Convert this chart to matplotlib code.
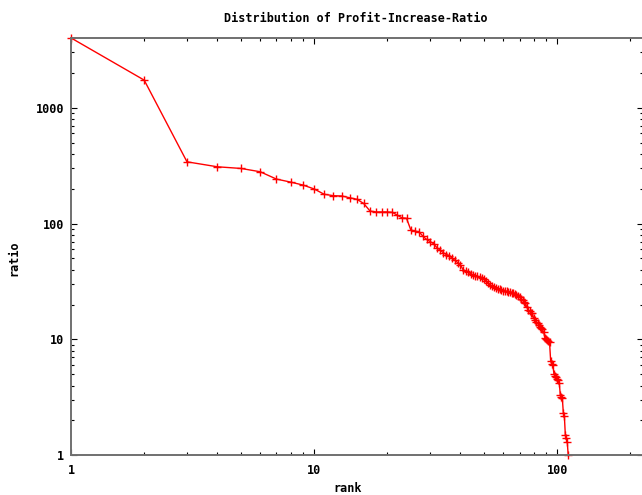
import matplotlib
matplotlib.use("Agg")
import matplotlib.pyplot as plt
from matplotlib.ticker import LogLocator, FuncFormatter, NullFormatter

title = "Distribution of Profit-Increase-Ratio"
xlabel = "rank"
ylabel = "ratio"

ratio = [
    4000, 1730, 341, 309, 299, 280, 242, 228, 215, 199,
    179, 174, 173, 167, 162, 149, 128, 126, 126, 126,
    125, 118, 112, 111, 88, 86, 85, 78, 73, 70,
    67, 62, 59, 56, 54, 53, 50, 48, 46, 44,
    40, 39, 38, 37, 36, 35.5, 35, 34.5, 34, 33.5,
    32, 30.5, 29.5, 29, 28.2, 27.7, 27.2, 27, 26.7, 26.4,
    26.2, 26, 25.8, 25.6, 25.4, 25.3, 24.8, 24.3, 23.7, 23.2,
    22.4, 21.8, 21.1, 20.5, 19, 17.9, 17.5, 17, 16.8, 15.2,
    14.7, 14.2, 13.8, 13.3, 12.9, 12.6, 12.2, 11.5, 10.3, 10.1,
    9.9, 9.6, 9.5, 6.5, 6.1, 6.0, 5.0, 4.8, 4.7, 4.6,
    4.5, 4.2, 3.3, 3.2, 3.1, 2.3, 2.2, 1.5, 1.4, 1.3,
    1.0,
]
rank = list(range(1, len(ratio) + 1))

xticks = [1, 10, 100]
yticks = [1, 10, 100, 1000]

font = dict(family="DejaVu Sans Mono", weight="bold", size=8.5)

fig = plt.figure(figsize=(6.42, 4.95), dpi=100)
ax = fig.add_axes([71 / 642, 1 - 455.3 / 495, 1.0 - 71 / 642 + 0.002, (455.3 - 38.3) / 495])

ax.plot(rank, ratio, color="red", lw=1.0, marker="+", markersize=6,
        markeredgewidth=1.0, clip_on=False)

ax.set_xscale("log")
ax.set_yscale("log")
ax.set_xlim(1, 226)
ax.set_ylim(1, 3970)

ax.xaxis.set_major_locator(LogLocator(base=10, subs=(1.0,)))
ax.yaxis.set_major_locator(LogLocator(base=10, subs=(1.0,)))
ax.xaxis.set_minor_locator(LogLocator(base=10, subs=range(2, 10)))
ax.yaxis.set_minor_locator(LogLocator(base=10, subs=range(2, 10)))
fmt = FuncFormatter(lambda v, p: "%d" % round(v))
ax.xaxis.set_major_formatter(fmt)
ax.yaxis.set_major_formatter(fmt)
ax.xaxis.set_minor_formatter(NullFormatter())
ax.yaxis.set_minor_formatter(NullFormatter())
ax.set_xticks(xticks)
ax.set_yticks(yticks)

ax.tick_params(which="both", direction="in", top=True, right=True, color="black", width=0.8)
ax.tick_params(which="major", length=4)
ax.tick_params(which="minor", length=2.2)
ax.tick_params(axis="x", which="major", pad=6)
ax.tick_params(axis="y", which="major", pad=5)
for lab in ax.get_xticklabels() + ax.get_yticklabels():
    lab.set_fontfamily(font["family"])
    lab.set_fontweight("bold")
    lab.set_fontsize(font["size"])

for s in ax.spines.values():
    s.set_color("#707070")
    s.set_linewidth(1.4)

fig.text(356 / 642, 1 - 18 / 495, title, ha="center", va="center", **font)
fig.text(348 / 642, 1 - 488 / 495, xlabel, ha="center", va="center", **font)
fig.text(14 / 642, 1 - 258 / 495, ylabel, ha="center", va="center", rotation=90, **font)

fig.savefig("out.png", dpi=100)
